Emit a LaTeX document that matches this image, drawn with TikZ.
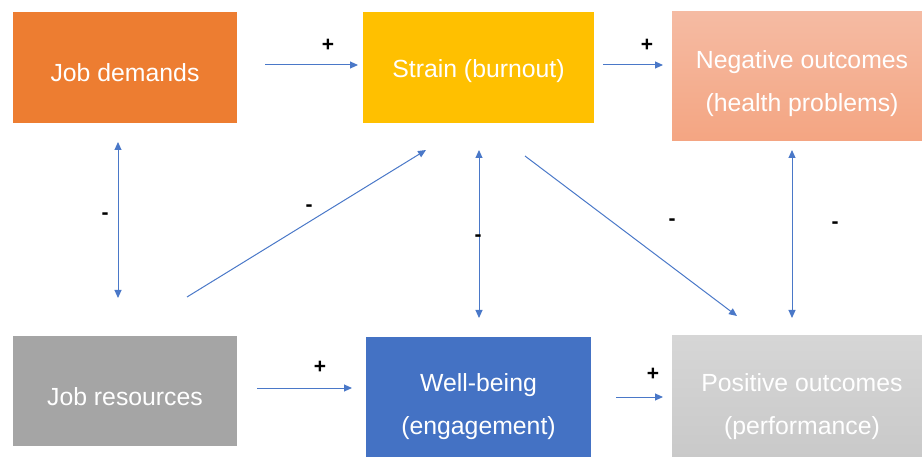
\documentclass[tikz,border=0pt]{standalone}
\usepackage{fontspec}
\setmainfont{Liberation Sans}
\usetikzlibrary{arrows.meta}
\definecolor{jdorange}{HTML}{ED7D31}
\definecolor{stryellow}{HTML}{FFC000}
\definecolor{wbblue}{HTML}{4472C4}
\definecolor{jrgray}{HTML}{A5A5A5}
\definecolor{negtop}{HTML}{F5BBA3}
\definecolor{negbot}{HTML}{F4A582}
\definecolor{postop}{HTML}{D6D6D6}
\definecolor{posbot}{HTML}{C9C9C9}
\definecolor{arrowblue}{HTML}{4A78C8}
\tikzset{
  box/.style={anchor=north west, inner sep=0pt, outer sep=0pt},
  boxtext/.style={text=white, align=center, inner sep=0pt,
    font=\fontsize{24.8}{43}\selectfont},
  link/.style={draw=arrowblue, line width=1pt, -{Triangle[length=8pt,width=7pt]}},
  dlink/.style={draw=arrowblue, line width=1pt, {Triangle[length=8pt,width=7pt]}-{Triangle[length=8pt,width=7pt]}},
  sign/.style={text=black, font=\fontsize{21}{21}\selectfont\bfseries, inner sep=0pt}
}
\begin{document}
\begin{tikzpicture}[x=1pt,y=-1pt]
\useasboundingbox (0,0) rectangle (922,457);
% boxes
\node[box, fill=jdorange, minimum width=224pt, minimum height=111pt] (jd) at (13,12) {};
\node[box, fill=stryellow, minimum width=231pt, minimum height=111pt] (strain) at (363,12) {};
\node[box, top color=negtop, bottom color=negbot, minimum width=252pt, minimum height=129pt] (neg) at (672,12) {};
\node[box, fill=jrgray, minimum width=224pt, minimum height=110pt] (jr) at (13,336) {};
\node[box, fill=wbblue, minimum width=225pt, minimum height=122pt] (wb) at (366,337) {};
\node[box, top color=postop, bottom color=posbot, minimum width=252pt, minimum height=122pt] (pos) at (672,336) {};
% box captions
\node[boxtext] (jdt) at ([yshift=-5pt]jd.center) {Job demands};
\node[boxtext] (strt) at ([yshift=-4pt]strain.center) {Strain (burnout)};
\node[boxtext] (negt) at ([yshift=-7pt,xshift=4pt]neg.center) {Negative outcomes\\(health problems)};
\node[boxtext] (jrt) at ([yshift=-6pt]jr.center) {Job resources};
\node[boxtext] (wbt) at ([yshift=-9pt]wb.center) {Well-being\\(engagement)};
\node[boxtext] (post) at ([yshift=-10pt,xshift=4pt]pos.center) {Positive outcomes\\(performance)};
% arrow end points
\coordinate (a1s) at (265,65);  \coordinate (a1e) at (358,65);
\coordinate (a2s) at (603,65);  \coordinate (a2e) at (663,65);
\coordinate (a3s) at (118,142); \coordinate (a3e) at (118,298);
\coordinate (a4s) at (187,297); \coordinate (a4e) at (426,150);
\coordinate (a5s) at (479,150); \coordinate (a5e) at (479,318);
\coordinate (a6s) at (525,156); \coordinate (a6e) at (737,316);
\coordinate (a7s) at (792,150); \coordinate (a7e) at (792,318);
\coordinate (a8s) at (257,388); \coordinate (a8e) at (352,388);
\coordinate (a9s) at (616,397); \coordinate (a9e) at (663,397);
% connectors
\draw[link] (a1s) -- (a1e);
\draw[link] (a2s) -- (a2e);
\draw[dlink] (a3s) -- (a3e);
\draw[link] (a4s) -- (a4e);
\draw[dlink] (a5s) -- (a5e);
\draw[link] (a6s) -- (a6e);
\draw[dlink] (a7s) -- (a7e);
\draw[link] (a8s) -- (a8e);
\draw[link] (a9s) -- (a9e);
% signs
\node[sign] (s1) at (328,45) {+};
\node[sign] (s2) at (647,45) {+};
\node[sign] (s3) at (105,216) {-};
\node[sign] (s4) at (309,208) {-};
\node[sign] (s5) at (478,238) {-};
\node[sign] (s6) at (672,222) {-};
\node[sign] (s7) at (835,225) {-};
\node[sign] (s8) at (320,367) {+};
\node[sign] (s9) at (653,374) {+};
\end{tikzpicture}
\end{document}
